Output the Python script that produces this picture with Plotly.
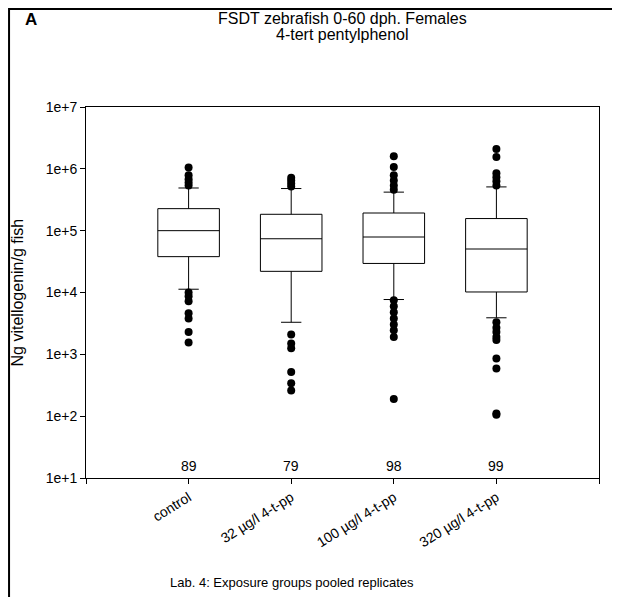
import plotly.graph_objects as go

# 그룹 / 표본 수
categories = ["control", "32 µg/l 4-t-pp", "100 µg/l 4-t-pp", "320 µg/l 4-t-pp"]
n_labels = ["89", "79", "98", "99"]
y_ticks = [1e1, 1e2, 1e3, 1e4, 1e5, 1e6, 1e7]
y_tick_text = ["1e+1", "1e+2", "1e+3", "1e+4", "1e+5", "1e+6", "1e+7"]

# 박스 통계 (10/25/50/75/90 백분위)
p10 = [1.13e4, 3.3e3, 7.7e3, 3.9e3]
q1 = [3.8e4, 2.2e4, 2.95e4, 1.02e4]
median = [1.0e5, 7.4e4, 7.9e4, 5.05e4]
q3 = [2.27e5, 1.84e5, 1.93e5, 1.57e5]
p90 = [4.9e5, 4.8e5, 4.2e5, 5.1e5]

# 이상치
out_control = [1.05e6, 7.9e5, 6.8e5, 6.0e5, 5.4e5,
               1.0e4, 8.7e3, 7.2e3, 4.6e3, 3.8e3, 2.3e3, 1.55e3]
out_32 = [7.2e5, 6.5e5, 5.8e5, 5.2e5,
          2.1e3, 1.5e3, 1.25e3, 5.2e2, 3.4e2, 2.6e2]
out_100 = [1.6e6, 1.07e6, 7.9e5, 6.5e5, 5.4e5, 4.6e5,
           7.5e3, 6.0e3, 4.8e3, 3.8e3, 3.05e3, 2.45e3, 1.9e3, 1.9e2]
out_320 = [2.1e6, 1.55e6, 8.5e5, 7.3e5, 6.3e5, 5.4e5,
           3.3e3, 2.7e3, 2.3e3, 1.9e3, 1.7e3, 8.6e2, 5.9e2, 1.1e2, 1.05e2]
outliers = [out_control, out_32, out_100, out_320]

FONT = "Liberation Sans, Arial, sans-serif"
pos = list(range(len(categories)))

fig = go.Figure()

fig.add_trace(go.Box(
    x=pos, q1=q1, median=median, q3=q3,
    lowerfence=p10, upperfence=p90,
    width=0.6, whiskerwidth=0.33,
    fillcolor="white", line=dict(color="black", width=1),
    boxpoints=False, hoverinfo="skip", showlegend=False
))

for i, vals in enumerate(outliers):
    fig.add_trace(go.Scatter(
        x=[i] * len(vals), y=vals, mode="markers",
        marker=dict(color="black", size=8),
        showlegend=False, hoverinfo="skip"
    ))

# n 표시
for i, n in enumerate(n_labels):
    fig.add_annotation(x=i, y=1.19, xref="x", yref="y", text=n,
                       xanchor="center", yanchor="middle",
                       showarrow=False, font=dict(size=14, color="black"))

# 제목 (두 줄)
fig.add_annotation(x=0.5, y=1.2668, xref="paper", yref="paper",
                   text="FSDT zebrafish 0-60 dph. Females",
                   xanchor="center", yanchor="top",
                   showarrow=False, font=dict(size=16, color="black"))
fig.add_annotation(x=0.5, y=1.1941, xref="paper", yref="paper",
                   text="4-tert pentylphenol",
                   xanchor="center", yanchor="middle",
                   showarrow=False, font=dict(size=16, color="black"))
fig.add_annotation(x=-0.108, y=1.2668, xref="paper", yref="paper", text="<b>A</b>",
                   xanchor="center", yanchor="top",
                   showarrow=False, font=dict(size=17, color="black"))
fig.add_annotation(x=-0.1326, y=0.5, xref="paper", yref="paper",
                   text="Ng vitellogenin/g fish", textangle=-90,
                   xanchor="center", yanchor="middle",
                   showarrow=False, font=dict(size=16, color="black"))
fig.add_annotation(x=0.4016, y=-0.283, xref="paper", yref="paper",
                   text="Lab. 4: Exposure groups pooled replicates",
                   xanchor="center", yanchor="middle",
                   showarrow=False, font=dict(size=13, color="black"))

# 외곽 테두리
fig.add_shape(type="rect", xref="paper", yref="paper",
              x0=-0.150, x1=1.035, y0=-0.35, y1=1.264,
              line=dict(color="black", width=2))

fig.update_layout(
    width=620, height=597,
    margin=dict(l=78, r=29, t=99, b=127),
    paper_bgcolor="white", plot_bgcolor="white",
    font=dict(family=FONT, size=14, color="black"),
    showlegend=False,
    xaxis=dict(
        range=[-1, 4], tickvals=[-1, 0, 1, 2, 3, 4],
        ticktext=[""] + categories + [""],
        tickangle=-32, ticks="outside", ticklen=5, tickcolor="black",
        showline=True, linecolor="black", linewidth=1, mirror=True,
        showgrid=False, zeroline=False, tickfont=dict(size=14)
    ),
    yaxis=dict(
        type="log", range=[1, 7], tickvals=y_ticks, ticktext=y_tick_text,
        ticks="outside", ticklen=5, tickcolor="black",
        showline=True, linecolor="black", linewidth=1, mirror=True,
        showgrid=False, zeroline=False, tickfont=dict(size=14)
    )
)

fig.write_html("out.html")
